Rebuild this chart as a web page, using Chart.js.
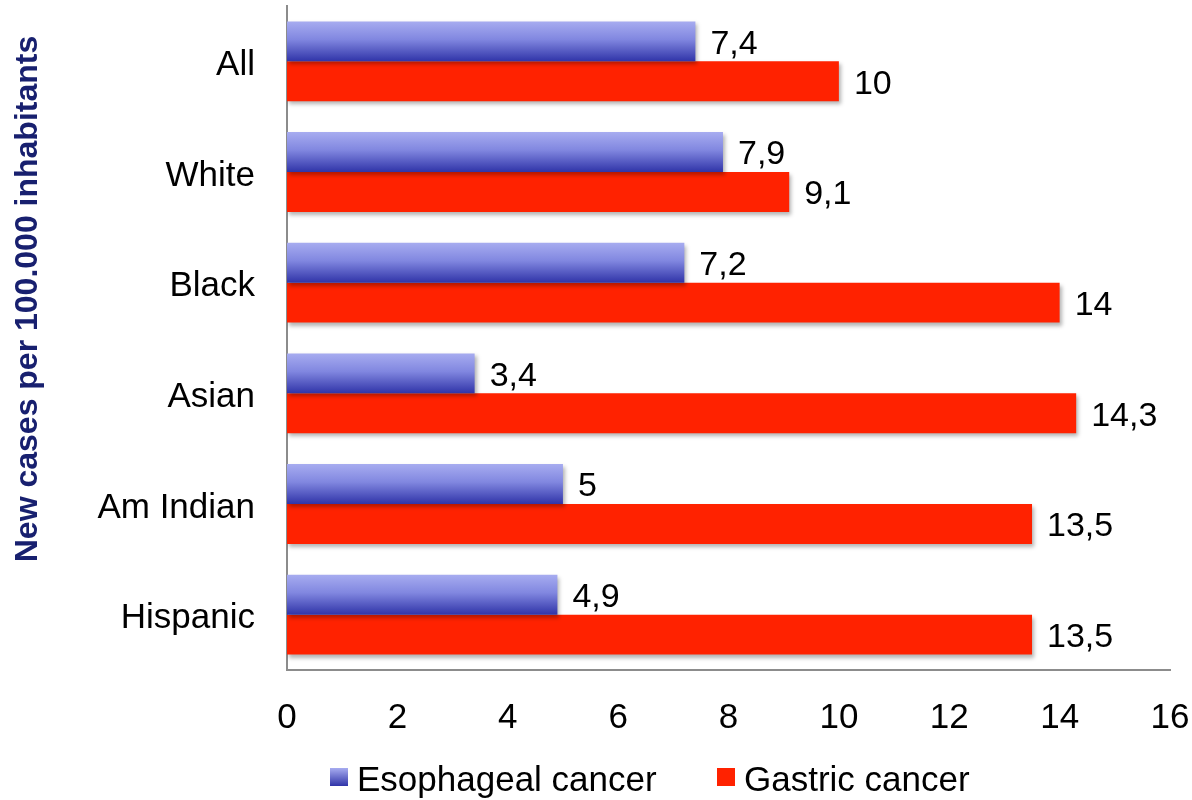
<!DOCTYPE html>
<html>
<head>
<meta charset="utf-8">
<script src="https://cdn.jsdelivr.net/npm/chart.js@4/dist/chart.umd.min.js"></script>
<style>
  html, body { margin: 0; padding: 0; background: #ffffff; }
  #wrap { width: 1192px; height: 800px; position: relative; }
</style>
</head>
<body>
<div id="wrap"><canvas id="chart" width="1192" height="800"></canvas></div>
<script>
// Incidence per 100.000 inhabitants by population group
const categories = ['All', 'White', 'Black', 'Asian', 'Am Indian', 'Hispanic'];
const esophageal = [7.4, 7.9, 7.2, 3.4, 5, 4.9];
const gastric = [10, 9.1, 14, 14.3, 13.5, 13.5];
const seriesNames = ['Esophageal cancer', 'Gastric cancer'];
const xTicks = [0, 2, 4, 6, 8, 10, 12, 14, 16];
const axisTitle = 'New cases per 100.000 inhabitants';

const FONT = '"Liberation Sans", Arial, Helvetica, sans-serif';
const RED = '#ff2200';
const BLUE_TOP = '#a7acf0';
const BLUE_BOTTOM = '#3034a8';
const CAT_PCT = 0.722;

// Vertical gradient for each blue bar, spanning that bar's own height
function blueFill(ctx) {
  const chart = ctx.chart;
  const y = chart.scales.y;
  if (!y || !chart.chartArea) return '#6a6fd0';
  const center = y.getPixelForValue(ctx.dataIndex);
  const band = (y.bottom - y.top) / categories.length;
  const thick = band * CAT_PCT / 2;
  const g = chart.ctx.createLinearGradient(0, center - thick, 0, center);
  g.addColorStop(0, BLUE_TOP);
  g.addColorStop(0.45, '#8187e0');
  g.addColorStop(1, BLUE_BOTTOM);
  return g;
}

// Soft drop shadow under the bars
const barShadow = {
  id: 'barShadow',
  beforeDatasetsDraw(chart) {
    const c = chart.ctx;
    c.save();
    c.shadowColor = 'rgba(0,0,0,0.3)';
    c.shadowBlur = 4;
    c.shadowOffsetX = 2;
    c.shadowOffsetY = 3;
  },
  afterDatasetsDraw(chart) {
    chart.ctx.restore();
  }
};

// Value labels right of each bar, decimal comma
const valueLabels = {
  id: 'valueLabels',
  afterDatasetsDraw(chart) {
    const c = chart.ctx;
    c.save();
    c.font = '34px ' + FONT;
    c.fillStyle = '#000000';
    c.textAlign = 'left';
    c.textBaseline = 'middle';
    chart.data.datasets.forEach((ds, di) => {
      chart.getDatasetMeta(di).data.forEach((bar, i) => {
        const txt = String(ds.data[i]).replace('.', ',');
        c.fillText(txt, bar.x + 15, bar.y + 3);
      });
    });
    c.restore();
  }
};

// Rotated axis title and bottom legend
const extras = {
  id: 'extras',
  afterDraw(chart) {
    const c = chart.ctx;
    c.save();
    c.translate(28, 299);
    c.rotate(-Math.PI / 2);
    c.font = 'bold 32px ' + FONT;
    c.fillStyle = '#18206f';
    c.textAlign = 'center';
    c.textBaseline = 'middle';
    c.fillText(axisTitle, 0, 0);
    c.restore();

    c.save();
    c.font = '35px ' + FONT;
    c.textBaseline = 'middle';
    c.textAlign = 'left';
    const yMid = 780;
    const items = [
      { x: 330, fill: null },
      { x: 717, fill: RED }
    ];
    items.forEach((it, k) => {
      const bs = 18, bx = it.x, by = 768;
      if (k === 0) {
        const g = c.createLinearGradient(0, by, 0, by + bs);
        g.addColorStop(0, BLUE_TOP);
        g.addColorStop(1, BLUE_BOTTOM);
        c.fillStyle = g;
      } else {
        c.fillStyle = it.fill;
      }
      c.fillRect(bx, by, bs, bs);
      c.fillStyle = '#000000';
      c.fillText(seriesNames[k], bx + 27, yMid + 1);
    });
    c.restore();
  }
};

new Chart(document.getElementById('chart'), {
  type: 'bar',
  data: {
    labels: categories,
    datasets: [
      { label: seriesNames[0], data: esophageal, backgroundColor: blueFill, borderWidth: 0 },
      { label: seriesNames[1], data: gastric, backgroundColor: RED, borderWidth: 0 }
    ]
  },
  options: {
    indexAxis: 'y',
    responsive: false,
    animation: false,
    devicePixelRatio: 1,
    categoryPercentage: CAT_PCT,
    barPercentage: 1,
    layout: { padding: { top: 6, right: 22, left: 0, bottom: 0 } },
    plugins: {
      legend: { display: false },
      tooltip: { enabled: false }
    },
    scales: {
      x: {
        min: 0,
        max: 16,
        afterBuildTicks(scale) { scale.ticks = xTicks.map(v => ({ value: v })); },
        afterFit(scale) {
          scale.height = 130;
          scale.paddingLeft = 0;
          scale.paddingRight = 0;
        },
        grid: { display: false, drawTicks: false },
        border: { display: true, color: '#8c8c8c', width: 2 },
        ticks: {
          padding: 27,
          color: '#000000',
          font: { family: FONT, size: 35 },
          maxRotation: 0
        }
      },
      y: {
        afterFit(scale) {
          scale.width = 287;
          scale.paddingTop = 0;
          scale.paddingBottom = 0;
        },
        grid: { display: false, drawTicks: false },
        border: { display: true, color: '#8c8c8c', width: 2 },
        ticks: {
          padding: 32,
          labelOffset: 4,
          color: '#000000',
          font: { family: FONT, size: 35 }
        }
      }
    }
  },
  plugins: [barShadow, valueLabels, extras]
});
</script>
</body>
</html>
